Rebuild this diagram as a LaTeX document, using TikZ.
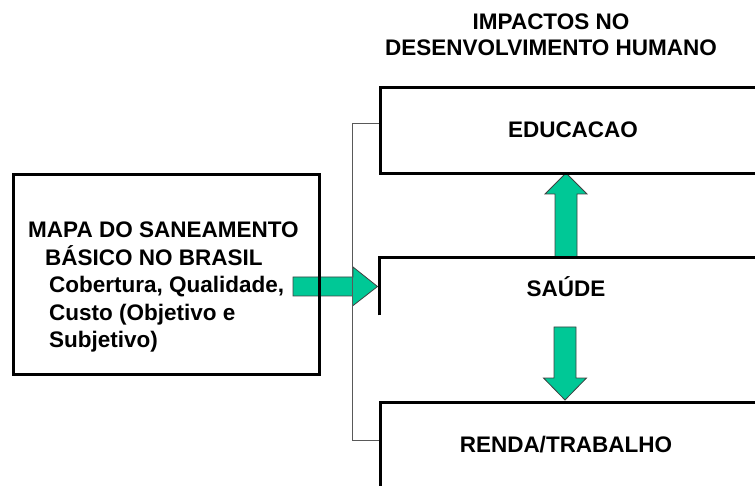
\documentclass[tikz,border=0pt]{standalone}
\usepackage{fontspec}
\setmainfont{Liberation Sans}
\usetikzlibrary{backgrounds}
\begin{document}
\begin{tikzpicture}[x=1pt,y=-1pt,
  boxline/.style={line width=3pt, black},
  boxshape/.style={rectangle, inner sep=0pt, anchor=north west},
  lbl/.style={font=\fontsize{22.5}{27.5}\selectfont\bfseries, inner sep=0pt},
  bracket/.style={line width=1pt, black!65},
  fat/.style={fill=arrowgreen, draw=black!75, line width=0.8pt, line join=miter}]
\definecolor{arrowgreen}{RGB}{0,200,150}
\useasboundingbox (0,0) rectangle (755,486);
\clip (0,0) rectangle (755,486);

% title
\node[lbl, align=center, font=\fontsize{22.5}{26}\selectfont\bfseries] (title) at (551,35) {IMPACTOS NO\\DESENVOLVIMENTO HUMANO};

% left box
\node[boxshape, draw, boxline, minimum width=306pt, minimum height=200pt] (mapa) at (12,173) {};
\node[lbl, align=left, anchor=base west] (mapatxt) at (28,348)
  {MAPA DO SANEAMENTO\\
   \hspace*{17pt}BÁSICO NO BRASIL\\
   \hspace*{21pt}Cobertura, Qualidade,\\
   \hspace*{21pt}Custo (Objetivo e\\
   \hspace*{21pt}Subjetivo)};

% right boxes
\node[boxshape, draw, boxline, minimum width=500pt, minimum height=86pt] (edu) at (379,86) {};
\node[lbl] (edutxt) at (573,130) {EDUCACAO};

\node[boxshape, minimum width=500pt, minimum height=57pt] (saude) at (379,258) {};
\draw[boxline] (saude.south west) -- (saude.north west) -- (saude.north east);
\node[lbl] (saudetxt) at (566,286.5) {SAÚDE};

\node[boxshape, draw, boxline, minimum width=500pt, minimum height=89pt] (renda) at (379,401) {};
\node[lbl] (rendatxt) at (566,444.5) {RENDA/TRABALHO};

% bracket
\coordinate (bt) at ([yshift=7pt]edu.west);
\coordinate (bb) at ([yshift=7pt]renda.west);
\draw[bracket] (bt) -- ++(-27,0) |- (bb);

\begin{scope}[on background layer]
% horizontal fat arrow
\coordinate (hTail) at (293,286.5);
\coordinate (hTip) at ([xshift=-1.5pt]saude.west |- hTail);
\draw[fat] (hTail) ++(0,-9.5) -- ++(60,0) -- ++(0,-10) -- (hTip)
  -- ([xshift=-25pt,yshift=-19.5pt]hTip) -- ++(0,-10) -- ([yshift=-9.5pt]hTail) -- cycle;

% up arrow
\coordinate (uTail) at (566,258);
\coordinate (uTip) at (566,173);
\draw[fat] ([xshift=-11pt]uTail) -- ([xshift=-11pt,yshift=-21pt]uTip) -- ([xshift=-21pt,yshift=-21pt]uTip)
  -- (uTip) -- ([xshift=21pt,yshift=-21pt]uTip) -- ([xshift=11pt,yshift=-21pt]uTip) -- ([xshift=11pt]uTail) -- cycle;

% down arrow
\coordinate (dTail) at (565,327);
\coordinate (dTip) at (565,400);
\draw[fat] ([xshift=-11pt]dTail) -- ([xshift=-11pt,yshift=22pt]dTip) -- ([xshift=-21.5pt,yshift=22pt]dTip)
  -- (dTip) -- ([xshift=21.5pt,yshift=22pt]dTip) -- ([xshift=11pt,yshift=22pt]dTip) -- ([xshift=11pt]dTail) -- cycle;
\end{scope}
\end{tikzpicture}
\end{document}
